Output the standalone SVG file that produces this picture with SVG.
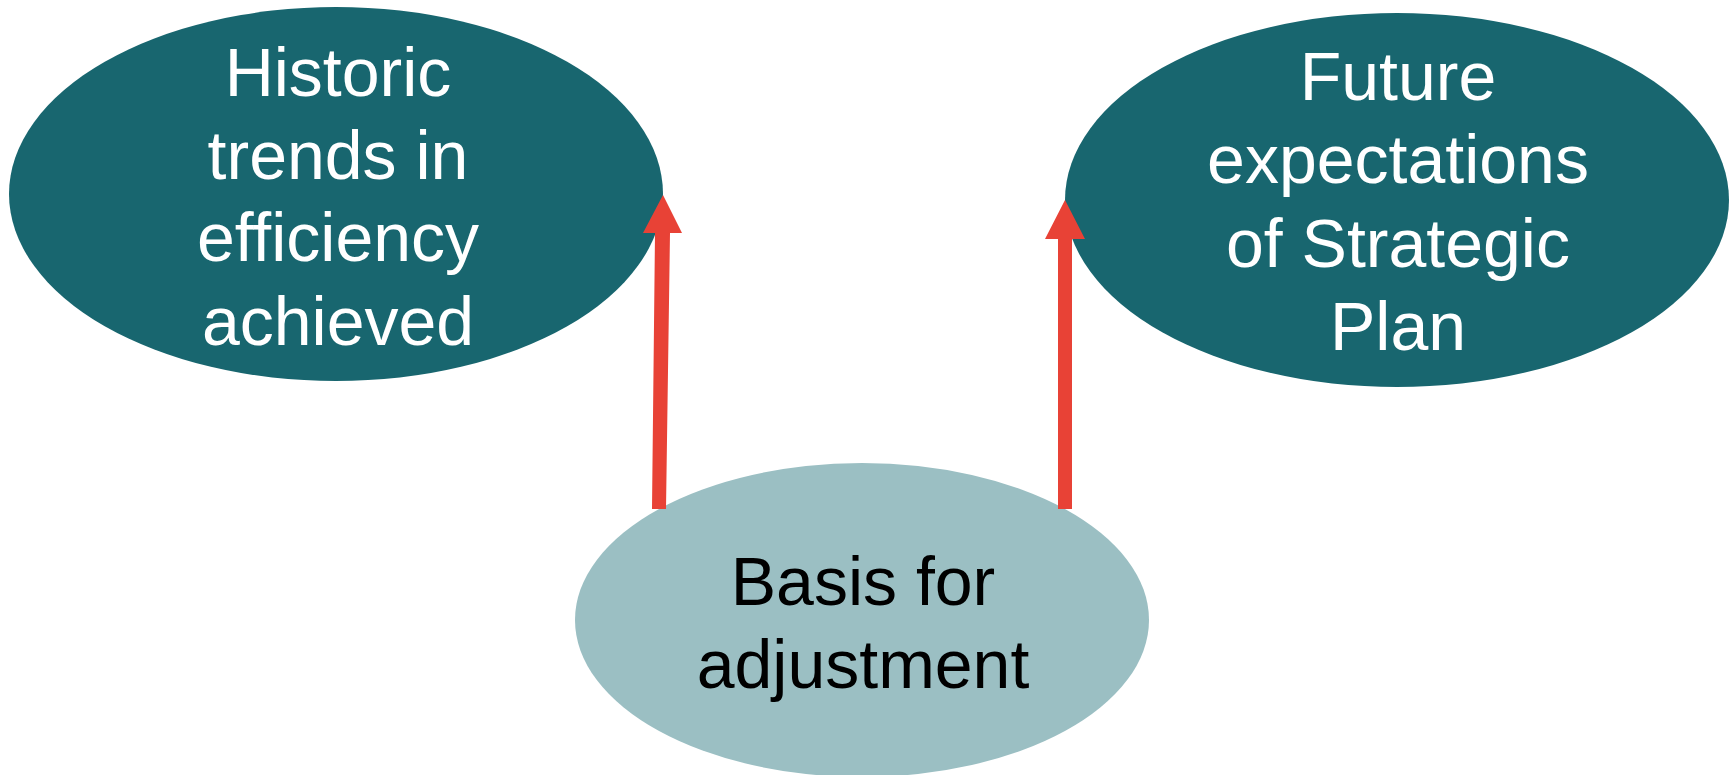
<svg xmlns="http://www.w3.org/2000/svg" width="1736" height="775" viewBox="0 0 1736 775">
<style>
.dark{fill:#18666F}
.light{fill:#9BBFC3}
.t{font-family:"Liberation Sans",Arial,sans-serif;font-size:68px;text-anchor:middle}
.w{fill:#FFFFFF}
.b{fill:#000000}
.arr{fill:#E84236}
</style>
<rect width="1736" height="775" fill="#FFFFFF"/>
<g id="node-historic">
<ellipse class="dark" cx="336" cy="194" rx="327" ry="187"/>
<text class="t w" x="338" y="96">Historic</text>
<text class="t w" x="338" y="179">trends in</text>
<text class="t w" x="338" y="261">efficiency</text>
<text class="t w" x="338" y="345">achieved</text>
</g>
<g id="node-future">
<ellipse class="dark" cx="1397" cy="200" rx="332" ry="187"/>
<text class="t w" x="1398" y="100">Future</text>
<text class="t w" x="1398" y="183">expectations</text>
<text class="t w" x="1398" y="267">of Strategic</text>
<text class="t w" x="1398" y="350">Plan</text>
</g>
<g id="node-basis">
<ellipse class="light" cx="862" cy="620" rx="287" ry="157"/>
<text class="t b" x="863" y="605">Basis for</text>
<text class="t b" x="863" y="688">adjustment</text>
</g>
<g id="connectors">
<polygon class="arr" points="652,509 666,509 670,233 682,233 663,195 643,233 655,233"/>
<polygon class="arr" points="1058,509 1072,509 1072,239 1085,239 1065,200 1045,239 1058,239"/>
</g>
</svg>
